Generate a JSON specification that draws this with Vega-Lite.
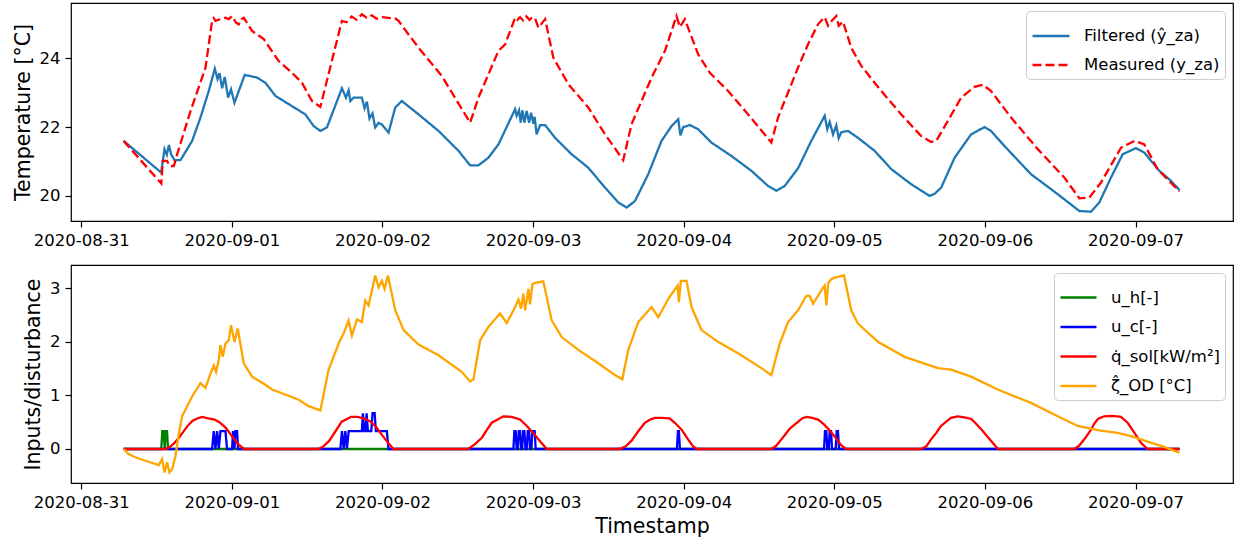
{
  "$schema": "https://vega.github.io/schema/vega-lite/v6.json",
  "background": "white",
  "padding": {"left": 12, "top": 2, "right": 0, "bottom": 2},
  "spacing": 14,
  "resolve": {
    "scale": {"color": "independent", "strokeDash": "independent"},
    "legend": {"color": "independent", "strokeDash": "independent"}
  },
  "config": {
    "font": "DejaVu Sans",
    "view": {"stroke": "black", "strokeWidth": 1.2},
    "axis": {
      "grid": false, "domain": false,
      "tickColor": "black", "tickSize": 6, "tickWidth": 1.2,
      "labelColor": "black", "labelFontSize": 16.5, "labelPadding": 5, "labelFont": "DejaVu Sans",
      "titleColor": "black", "titleFontSize": 20.5, "titleFontWeight": "normal", "titlePadding": 6, "titleFont": "DejaVu Sans"
    },
    "legend": {
      "labelFont": "DejaVu Sans", "labelFontSize": 16.5, "labelColor": "black",
      "strokeColor": "#cccccc", "fillColor": "white", "cornerRadius": 4,
      "symbolType": "stroke", "symbolStrokeWidth": 2.3, "labelOffset": 13
    }
  },
  "datasets": {
    "temp": [
      {"t": "2020-08-31T06:45", "s": "F", "v": 21.60},
      {"t": "2020-08-31T12:44", "s": "F", "v": 20.68},
      {"t": "2020-08-31T13:16", "s": "F", "v": 21.36},
      {"t": "2020-08-31T13:38", "s": "F", "v": 21.20},
      {"t": "2020-08-31T13:58", "s": "F", "v": 21.48},
      {"t": "2020-08-31T14:19", "s": "F", "v": 21.21},
      {"t": "2020-08-31T14:52", "s": "F", "v": 21.04},
      {"t": "2020-08-31T15:49", "s": "F", "v": 21.04},
      {"t": "2020-08-31T17:40", "s": "F", "v": 21.60},
      {"t": "2020-08-31T19:00", "s": "F", "v": 22.28},
      {"t": "2020-08-31T20:19", "s": "F", "v": 23.05},
      {"t": "2020-08-31T21:17", "s": "F", "v": 23.70},
      {"t": "2020-08-31T21:43", "s": "F", "v": 23.40},
      {"t": "2020-08-31T22:02", "s": "F", "v": 23.57},
      {"t": "2020-08-31T22:27", "s": "F", "v": 23.13},
      {"t": "2020-08-31T22:52", "s": "F", "v": 23.46},
      {"t": "2020-08-31T23:24", "s": "F", "v": 22.86},
      {"t": "2020-08-31T23:52", "s": "F", "v": 23.10},
      {"t": "2020-09-01T00:25", "s": "F", "v": 22.71},
      {"t": "2020-09-01T02:03", "s": "F", "v": 23.52},
      {"t": "2020-09-01T04:01", "s": "F", "v": 23.44},
      {"t": "2020-09-01T05:21", "s": "F", "v": 23.29},
      {"t": "2020-09-01T06:56", "s": "F", "v": 22.91},
      {"t": "2020-09-01T09:03", "s": "F", "v": 22.67},
      {"t": "2020-09-01T11:43", "s": "F", "v": 22.37},
      {"t": "2020-09-01T13:02", "s": "F", "v": 22.03},
      {"t": "2020-09-01T14:06", "s": "F", "v": 21.89},
      {"t": "2020-09-01T15:09", "s": "F", "v": 21.99},
      {"t": "2020-09-01T17:32", "s": "F", "v": 23.13},
      {"t": "2020-09-01T18:11", "s": "F", "v": 22.86},
      {"t": "2020-09-01T18:36", "s": "F", "v": 23.07},
      {"t": "2020-09-01T18:53", "s": "F", "v": 22.76},
      {"t": "2020-09-01T19:24", "s": "F", "v": 22.86},
      {"t": "2020-09-01T20:43", "s": "F", "v": 22.86},
      {"t": "2020-09-01T21:09", "s": "F", "v": 22.55},
      {"t": "2020-09-01T21:31", "s": "F", "v": 22.74},
      {"t": "2020-09-01T21:56", "s": "F", "v": 22.25},
      {"t": "2020-09-01T22:25", "s": "F", "v": 22.40},
      {"t": "2020-09-01T22:50", "s": "F", "v": 21.99},
      {"t": "2020-09-01T23:22", "s": "F", "v": 22.12},
      {"t": "2020-09-01T23:54", "s": "F", "v": 22.08},
      {"t": "2020-09-02T00:58", "s": "F", "v": 21.84},
      {"t": "2020-09-02T02:02", "s": "F", "v": 22.57},
      {"t": "2020-09-02T03:05", "s": "F", "v": 22.76},
      {"t": "2020-09-02T05:45", "s": "F", "v": 22.37},
      {"t": "2020-09-02T08:56", "s": "F", "v": 21.89},
      {"t": "2020-09-02T12:07", "s": "F", "v": 21.31},
      {"t": "2020-09-02T13:58", "s": "F", "v": 20.89},
      {"t": "2020-09-02T15:18", "s": "F", "v": 20.89},
      {"t": "2020-09-02T16:53", "s": "F", "v": 21.11},
      {"t": "2020-09-02T18:29", "s": "F", "v": 21.50},
      {"t": "2020-09-02T21:08", "s": "F", "v": 22.52},
      {"t": "2020-09-02T21:23", "s": "F", "v": 22.33},
      {"t": "2020-09-02T21:46", "s": "F", "v": 22.49},
      {"t": "2020-09-02T22:02", "s": "F", "v": 22.13},
      {"t": "2020-09-02T22:18", "s": "F", "v": 22.49},
      {"t": "2020-09-02T22:37", "s": "F", "v": 22.13},
      {"t": "2020-09-02T22:59", "s": "F", "v": 22.47},
      {"t": "2020-09-02T23:22", "s": "F", "v": 22.13},
      {"t": "2020-09-02T23:41", "s": "F", "v": 22.42},
      {"t": "2020-09-03T00:03", "s": "F", "v": 22.10},
      {"t": "2020-09-03T00:15", "s": "F", "v": 22.30},
      {"t": "2020-09-03T00:34", "s": "F", "v": 21.79},
      {"t": "2020-09-03T01:07", "s": "F", "v": 22.06},
      {"t": "2020-09-03T01:55", "s": "F", "v": 22.06},
      {"t": "2020-09-03T03:30", "s": "F", "v": 21.69},
      {"t": "2020-09-03T06:09", "s": "F", "v": 21.21},
      {"t": "2020-09-03T08:48", "s": "F", "v": 20.82},
      {"t": "2020-09-03T11:28", "s": "F", "v": 20.24},
      {"t": "2020-09-03T13:35", "s": "F", "v": 19.81},
      {"t": "2020-09-03T14:54", "s": "F", "v": 19.66},
      {"t": "2020-09-03T16:14", "s": "F", "v": 19.85},
      {"t": "2020-09-03T18:21", "s": "F", "v": 20.63},
      {"t": "2020-09-03T20:28", "s": "F", "v": 21.60},
      {"t": "2020-09-03T22:04", "s": "F", "v": 22.03},
      {"t": "2020-09-03T23:08", "s": "F", "v": 22.23},
      {"t": "2020-09-03T23:29", "s": "F", "v": 21.76},
      {"t": "2020-09-03T23:55", "s": "F", "v": 22.00},
      {"t": "2020-09-04T00:59", "s": "F", "v": 22.06},
      {"t": "2020-09-04T02:18", "s": "F", "v": 21.94},
      {"t": "2020-09-04T04:25", "s": "F", "v": 21.55},
      {"t": "2020-09-04T07:37", "s": "F", "v": 21.16},
      {"t": "2020-09-04T10:47", "s": "F", "v": 20.73},
      {"t": "2020-09-04T13:27", "s": "F", "v": 20.29},
      {"t": "2020-09-04T14:46", "s": "F", "v": 20.15},
      {"t": "2020-09-04T16:06", "s": "F", "v": 20.29},
      {"t": "2020-09-04T18:13", "s": "F", "v": 20.80},
      {"t": "2020-09-04T20:20", "s": "F", "v": 21.60},
      {"t": "2020-09-04T22:28", "s": "F", "v": 22.33},
      {"t": "2020-09-04T22:53", "s": "F", "v": 21.94},
      {"t": "2020-09-04T23:16", "s": "F", "v": 22.15},
      {"t": "2020-09-04T23:48", "s": "F", "v": 21.79},
      {"t": "2020-09-05T00:19", "s": "F", "v": 22.05},
      {"t": "2020-09-05T00:42", "s": "F", "v": 21.68},
      {"t": "2020-09-05T01:07", "s": "F", "v": 21.85},
      {"t": "2020-09-05T02:11", "s": "F", "v": 21.89},
      {"t": "2020-09-05T03:46", "s": "F", "v": 21.69},
      {"t": "2020-09-05T06:26", "s": "F", "v": 21.31},
      {"t": "2020-09-05T09:04", "s": "F", "v": 20.78},
      {"t": "2020-09-05T12:15", "s": "F", "v": 20.34},
      {"t": "2020-09-05T15:11", "s": "F", "v": 20.00},
      {"t": "2020-09-05T15:59", "s": "F", "v": 20.06},
      {"t": "2020-09-05T17:02", "s": "F", "v": 20.24},
      {"t": "2020-09-05T19:10", "s": "F", "v": 21.11},
      {"t": "2020-09-05T21:48", "s": "F", "v": 21.79},
      {"t": "2020-09-05T23:56", "s": "F", "v": 22.00},
      {"t": "2020-09-06T00:59", "s": "F", "v": 21.89},
      {"t": "2020-09-06T03:07", "s": "F", "v": 21.45},
      {"t": "2020-09-06T07:21", "s": "F", "v": 20.63},
      {"t": "2020-09-06T11:36", "s": "F", "v": 20.05},
      {"t": "2020-09-06T15:03", "s": "F", "v": 19.56},
      {"t": "2020-09-06T16:54", "s": "F", "v": 19.54},
      {"t": "2020-09-06T18:14", "s": "F", "v": 19.81},
      {"t": "2020-09-06T20:05", "s": "F", "v": 20.53},
      {"t": "2020-09-06T21:57", "s": "F", "v": 21.21},
      {"t": "2020-09-07T00:04", "s": "F", "v": 21.39},
      {"t": "2020-09-07T01:24", "s": "F", "v": 21.26},
      {"t": "2020-09-07T03:47", "s": "F", "v": 20.73},
      {"t": "2020-09-07T05:38", "s": "F", "v": 20.44},
      {"t": "2020-09-07T07:00", "s": "F", "v": 20.17},

      {"t": "2020-08-31T06:45", "s": "M", "v": 21.60},
      {"t": "2020-08-31T12:45", "s": "M", "v": 20.36},
      {"t": "2020-08-31T13:00", "s": "M", "v": 21.02},
      {"t": "2020-08-31T13:41", "s": "M", "v": 21.02},
      {"t": "2020-08-31T14:04", "s": "M", "v": 20.87},
      {"t": "2020-08-31T14:45", "s": "M", "v": 20.87},
      {"t": "2020-08-31T15:17", "s": "M", "v": 21.21},
      {"t": "2020-08-31T17:25", "s": "M", "v": 22.47},
      {"t": "2020-08-31T19:48", "s": "M", "v": 23.73},
      {"t": "2020-08-31T20:51", "s": "M", "v": 25.09},
      {"t": "2020-08-31T21:07", "s": "M", "v": 25.17},
      {"t": "2020-08-31T21:23", "s": "M", "v": 25.09},
      {"t": "2020-08-31T22:11", "s": "M", "v": 25.14},
      {"t": "2020-08-31T22:59", "s": "M", "v": 25.18},
      {"t": "2020-08-31T23:31", "s": "M", "v": 25.14},
      {"t": "2020-09-01T00:02", "s": "M", "v": 25.23},
      {"t": "2020-09-01T00:40", "s": "M", "v": 25.04},
      {"t": "2020-09-01T01:06", "s": "M", "v": 24.99},
      {"t": "2020-09-01T01:32", "s": "M", "v": 25.14},
      {"t": "2020-09-01T01:54", "s": "M", "v": 25.18},
      {"t": "2020-09-01T03:13", "s": "M", "v": 24.80},
      {"t": "2020-09-01T05:05", "s": "M", "v": 24.56},
      {"t": "2020-09-01T07:28", "s": "M", "v": 23.92},
      {"t": "2020-09-01T09:35", "s": "M", "v": 23.58},
      {"t": "2020-09-01T11:10", "s": "M", "v": 23.29},
      {"t": "2020-09-01T12:46", "s": "M", "v": 22.76},
      {"t": "2020-09-01T14:06", "s": "M", "v": 22.59},
      {"t": "2020-09-01T17:32", "s": "M", "v": 25.09},
      {"t": "2020-09-01T18:17", "s": "M", "v": 25.05},
      {"t": "2020-09-01T19:05", "s": "M", "v": 25.22},
      {"t": "2020-09-01T19:53", "s": "M", "v": 25.12},
      {"t": "2020-09-01T20:43", "s": "M", "v": 25.28},
      {"t": "2020-09-01T21:28", "s": "M", "v": 25.18},
      {"t": "2020-09-01T22:16", "s": "M", "v": 25.25},
      {"t": "2020-09-01T23:04", "s": "M", "v": 25.15},
      {"t": "2020-09-01T23:54", "s": "M", "v": 25.20},
      {"t": "2020-09-02T00:58", "s": "M", "v": 25.18},
      {"t": "2020-09-02T02:02", "s": "M", "v": 25.16},
      {"t": "2020-09-02T02:34", "s": "M", "v": 25.09},
      {"t": "2020-09-02T03:31", "s": "M", "v": 24.85},
      {"t": "2020-09-02T05:45", "s": "M", "v": 24.31},
      {"t": "2020-09-02T09:27", "s": "M", "v": 23.49},
      {"t": "2020-09-02T13:58", "s": "M", "v": 22.13},
      {"t": "2020-09-02T15:18", "s": "M", "v": 22.86},
      {"t": "2020-09-02T18:29", "s": "M", "v": 24.22},
      {"t": "2020-09-02T19:33", "s": "M", "v": 24.41},
      {"t": "2020-09-02T21:08", "s": "M", "v": 25.18},
      {"t": "2020-09-02T21:30", "s": "M", "v": 25.12},
      {"t": "2020-09-02T21:55", "s": "M", "v": 25.20},
      {"t": "2020-09-02T22:25", "s": "M", "v": 25.10},
      {"t": "2020-09-02T22:55", "s": "M", "v": 25.22},
      {"t": "2020-09-02T23:25", "s": "M", "v": 25.12},
      {"t": "2020-09-02T23:55", "s": "M", "v": 25.20},
      {"t": "2020-09-03T00:20", "s": "M", "v": 25.15},
      {"t": "2020-09-03T00:51", "s": "M", "v": 24.89},
      {"t": "2020-09-03T01:55", "s": "M", "v": 25.14},
      {"t": "2020-09-03T03:14", "s": "M", "v": 24.02},
      {"t": "2020-09-03T05:37", "s": "M", "v": 23.25},
      {"t": "2020-09-03T08:48", "s": "M", "v": 22.57},
      {"t": "2020-09-03T11:28", "s": "M", "v": 21.79},
      {"t": "2020-09-03T14:22", "s": "M", "v": 21.04},
      {"t": "2020-09-03T15:41", "s": "M", "v": 22.08},
      {"t": "2020-09-03T18:53", "s": "M", "v": 23.44},
      {"t": "2020-09-03T21:01", "s": "M", "v": 24.22},
      {"t": "2020-09-03T22:51", "s": "M", "v": 25.23},
      {"t": "2020-09-03T23:24", "s": "M", "v": 24.91},
      {"t": "2020-09-04T00:11", "s": "M", "v": 25.14},
      {"t": "2020-09-04T02:18", "s": "M", "v": 24.12},
      {"t": "2020-09-04T04:10", "s": "M", "v": 23.58},
      {"t": "2020-09-04T07:05", "s": "M", "v": 23.05},
      {"t": "2020-09-04T10:16", "s": "M", "v": 22.37},
      {"t": "2020-09-04T13:58", "s": "M", "v": 21.55},
      {"t": "2020-09-04T15:02", "s": "M", "v": 22.28},
      {"t": "2020-09-04T18:13", "s": "M", "v": 23.73},
      {"t": "2020-09-04T19:49", "s": "M", "v": 24.41},
      {"t": "2020-09-04T21:24", "s": "M", "v": 24.99},
      {"t": "2020-09-04T22:28", "s": "M", "v": 25.20},
      {"t": "2020-09-04T23:00", "s": "M", "v": 24.95},
      {"t": "2020-09-04T23:38", "s": "M", "v": 25.10},
      {"t": "2020-09-05T00:19", "s": "M", "v": 25.23},
      {"t": "2020-09-05T00:42", "s": "M", "v": 24.95},
      {"t": "2020-09-05T01:23", "s": "M", "v": 25.07},
      {"t": "2020-09-05T02:42", "s": "M", "v": 24.31},
      {"t": "2020-09-05T04:18", "s": "M", "v": 23.78},
      {"t": "2020-09-05T07:29", "s": "M", "v": 23.05},
      {"t": "2020-09-05T10:40", "s": "M", "v": 22.37},
      {"t": "2020-09-05T13:51", "s": "M", "v": 21.74},
      {"t": "2020-09-05T15:26", "s": "M", "v": 21.57},
      {"t": "2020-09-05T16:14", "s": "M", "v": 21.60},
      {"t": "2020-09-05T18:06", "s": "M", "v": 22.18},
      {"t": "2020-09-05T20:13", "s": "M", "v": 22.86},
      {"t": "2020-09-05T22:21", "s": "M", "v": 23.17},
      {"t": "2020-09-05T23:40", "s": "M", "v": 23.23},
      {"t": "2020-09-06T00:59", "s": "M", "v": 23.05},
      {"t": "2020-09-06T04:10", "s": "M", "v": 22.28},
      {"t": "2020-09-06T08:25", "s": "M", "v": 21.36},
      {"t": "2020-09-06T12:40", "s": "M", "v": 20.53},
      {"t": "2020-09-06T15:03", "s": "M", "v": 19.93},
      {"t": "2020-09-06T16:39", "s": "M", "v": 19.95},
      {"t": "2020-09-06T18:30", "s": "M", "v": 20.39},
      {"t": "2020-09-06T21:41", "s": "M", "v": 21.40},
      {"t": "2020-09-06T23:49", "s": "M", "v": 21.60},
      {"t": "2020-09-07T01:24", "s": "M", "v": 21.50},
      {"t": "2020-09-07T03:31", "s": "M", "v": 20.78},
      {"t": "2020-09-07T07:00", "s": "M", "v": 20.13}
    ],
    "inp": [
      {"t": "2020-08-31T06:45", "k": "uh", "v": 0},
      {"t": "2020-08-31T12:45", "k": "uh", "v": 0},
      {"t": "2020-08-31T12:55", "k": "uh", "v": 0.333},
      {"t": "2020-08-31T13:08", "k": "uh", "v": 0.333},
      {"t": "2020-08-31T13:18", "k": "uh", "v": 0},
      {"t": "2020-08-31T13:28", "k": "uh", "v": 0.333},
      {"t": "2020-08-31T13:40", "k": "uh", "v": 0.333},
      {"t": "2020-08-31T13:50", "k": "uh", "v": 0},
      {"t": "2020-09-07T07:00", "k": "uh", "v": 0},

      {"t": "2020-08-31T06:45", "k": "uc", "v": 0},
      {"t": "2020-08-31T20:51", "k": "uc", "v": 0},
      {"t": "2020-08-31T21:07", "k": "uc", "v": 0.333},
      {"t": "2020-08-31T21:23", "k": "uc", "v": 0},
      {"t": "2020-08-31T21:39", "k": "uc", "v": 0.333},
      {"t": "2020-08-31T21:55", "k": "uc", "v": 0},
      {"t": "2020-08-31T22:11", "k": "uc", "v": 0.333},
      {"t": "2020-08-31T22:59", "k": "uc", "v": 0.333},
      {"t": "2020-08-31T23:14", "k": "uc", "v": 0},
      {"t": "2020-09-01T00:02", "k": "uc", "v": 0},
      {"t": "2020-09-01T00:11", "k": "uc", "v": 0.333},
      {"t": "2020-09-01T00:25", "k": "uc", "v": 0},
      {"t": "2020-09-01T00:34", "k": "uc", "v": 0.333},
      {"t": "2020-09-01T00:50", "k": "uc", "v": 0.333},
      {"t": "2020-09-01T00:59", "k": "uc", "v": 0},
      {"t": "2020-09-01T17:17", "k": "uc", "v": 0},
      {"t": "2020-09-01T17:33", "k": "uc", "v": 0.333},
      {"t": "2020-09-01T17:49", "k": "uc", "v": 0},
      {"t": "2020-09-01T18:05", "k": "uc", "v": 0.333},
      {"t": "2020-09-01T18:20", "k": "uc", "v": 0},
      {"t": "2020-09-01T18:37", "k": "uc", "v": 0.333},
      {"t": "2020-09-01T20:43", "k": "uc", "v": 0.333},
      {"t": "2020-09-01T20:53", "k": "uc", "v": 0.667},
      {"t": "2020-09-01T21:06", "k": "uc", "v": 0.333},
      {"t": "2020-09-01T21:19", "k": "uc", "v": 0.333},
      {"t": "2020-09-01T21:28", "k": "uc", "v": 0.667},
      {"t": "2020-09-01T21:41", "k": "uc", "v": 0.333},
      {"t": "2020-09-01T22:13", "k": "uc", "v": 0.333},
      {"t": "2020-09-01T22:25", "k": "uc", "v": 0.667},
      {"t": "2020-09-01T22:45", "k": "uc", "v": 0.667},
      {"t": "2020-09-01T22:57", "k": "uc", "v": 0.333},
      {"t": "2020-09-02T00:42", "k": "uc", "v": 0.333},
      {"t": "2020-09-02T00:58", "k": "uc", "v": 0},
      {"t": "2020-09-02T20:52", "k": "uc", "v": 0},
      {"t": "2020-09-02T21:01", "k": "uc", "v": 0.333},
      {"t": "2020-09-02T21:14", "k": "uc", "v": 0.333},
      {"t": "2020-09-02T21:23", "k": "uc", "v": 0},
      {"t": "2020-09-02T21:33", "k": "uc", "v": 0},
      {"t": "2020-09-02T21:43", "k": "uc", "v": 0.333},
      {"t": "2020-09-02T21:56", "k": "uc", "v": 0.333},
      {"t": "2020-09-02T22:05", "k": "uc", "v": 0},
      {"t": "2020-09-02T22:15", "k": "uc", "v": 0},
      {"t": "2020-09-02T22:25", "k": "uc", "v": 0.333},
      {"t": "2020-09-02T22:37", "k": "uc", "v": 0.333},
      {"t": "2020-09-02T22:47", "k": "uc", "v": 0},
      {"t": "2020-09-02T22:59", "k": "uc", "v": 0},
      {"t": "2020-09-02T23:09", "k": "uc", "v": 0.333},
      {"t": "2020-09-02T23:22", "k": "uc", "v": 0.333},
      {"t": "2020-09-02T23:31", "k": "uc", "v": 0},
      {"t": "2020-09-02T23:44", "k": "uc", "v": 0},
      {"t": "2020-09-02T23:53", "k": "uc", "v": 0.333},
      {"t": "2020-09-03T00:15", "k": "uc", "v": 0.333},
      {"t": "2020-09-03T00:25", "k": "uc", "v": 0},
      {"t": "2020-09-03T22:55", "k": "uc", "v": 0},
      {"t": "2020-09-03T23:05", "k": "uc", "v": 0.333},
      {"t": "2020-09-03T23:14", "k": "uc", "v": 0.333},
      {"t": "2020-09-03T23:24", "k": "uc", "v": 0},
      {"t": "2020-09-04T22:22", "k": "uc", "v": 0},
      {"t": "2020-09-04T22:31", "k": "uc", "v": 0.333},
      {"t": "2020-09-04T22:44", "k": "uc", "v": 0.333},
      {"t": "2020-09-04T22:53", "k": "uc", "v": 0},
      {"t": "2020-09-04T23:07", "k": "uc", "v": 0},
      {"t": "2020-09-04T23:16", "k": "uc", "v": 0.333},
      {"t": "2020-09-04T23:29", "k": "uc", "v": 0.333},
      {"t": "2020-09-04T23:38", "k": "uc", "v": 0},
      {"t": "2020-09-05T00:13", "k": "uc", "v": 0},
      {"t": "2020-09-05T00:23", "k": "uc", "v": 0.333},
      {"t": "2020-09-05T00:35", "k": "uc", "v": 0.333},
      {"t": "2020-09-05T00:45", "k": "uc", "v": 0},
      {"t": "2020-09-07T07:00", "k": "uc", "v": 0},

      {"t": "2020-08-31T06:45", "k": "qs", "v": 0},
      {"t": "2020-08-31T13:20", "k": "qs", "v": 0},
      {"t": "2020-08-31T14:00", "k": "qs", "v": 0.03},
      {"t": "2020-08-31T14:45", "k": "qs", "v": 0.10},
      {"t": "2020-08-31T15:30", "k": "qs", "v": 0.20},
      {"t": "2020-08-31T16:15", "k": "qs", "v": 0.32},
      {"t": "2020-08-31T17:00", "k": "qs", "v": 0.44},
      {"t": "2020-08-31T17:45", "k": "qs", "v": 0.53},
      {"t": "2020-08-31T18:30", "k": "qs", "v": 0.57},
      {"t": "2020-08-31T19:15", "k": "qs", "v": 0.60},
      {"t": "2020-08-31T20:15", "k": "qs", "v": 0.57},
      {"t": "2020-08-31T21:15", "k": "qs", "v": 0.55},
      {"t": "2020-08-31T22:00", "k": "qs", "v": 0.50},
      {"t": "2020-08-31T23:00", "k": "qs", "v": 0.40},
      {"t": "2020-09-01T00:00", "k": "qs", "v": 0.24},
      {"t": "2020-09-01T01:00", "k": "qs", "v": 0.09},
      {"t": "2020-09-01T01:55", "k": "qs", "v": 0},
      {"t": "2020-09-01T13:45", "k": "qs", "v": 0},
      {"t": "2020-09-01T14:30", "k": "qs", "v": 0.04},
      {"t": "2020-09-01T15:30", "k": "qs", "v": 0.15},
      {"t": "2020-09-01T16:30", "k": "qs", "v": 0.33},
      {"t": "2020-09-01T17:30", "k": "qs", "v": 0.51},
      {"t": "2020-09-01T18:30", "k": "qs", "v": 0.57},
      {"t": "2020-09-01T19:00", "k": "qs", "v": 0.60},
      {"t": "2020-09-01T20:00", "k": "qs", "v": 0.60},
      {"t": "2020-09-01T21:00", "k": "qs", "v": 0.57},
      {"t": "2020-09-01T22:00", "k": "qs", "v": 0.52},
      {"t": "2020-09-01T23:00", "k": "qs", "v": 0.41},
      {"t": "2020-09-02T00:00", "k": "qs", "v": 0.25},
      {"t": "2020-09-02T01:00", "k": "qs", "v": 0.10},
      {"t": "2020-09-02T01:45", "k": "qs", "v": 0},
      {"t": "2020-09-02T13:40", "k": "qs", "v": 0},
      {"t": "2020-09-02T14:45", "k": "qs", "v": 0.09},
      {"t": "2020-09-02T15:50", "k": "qs", "v": 0.21},
      {"t": "2020-09-02T16:40", "k": "qs", "v": 0.36},
      {"t": "2020-09-02T17:25", "k": "qs", "v": 0.49},
      {"t": "2020-09-02T18:30", "k": "qs", "v": 0.56},
      {"t": "2020-09-02T19:15", "k": "qs", "v": 0.61},
      {"t": "2020-09-02T20:35", "k": "qs", "v": 0.60},
      {"t": "2020-09-02T21:55", "k": "qs", "v": 0.55},
      {"t": "2020-09-02T23:00", "k": "qs", "v": 0.43},
      {"t": "2020-09-03T00:00", "k": "qs", "v": 0.30},
      {"t": "2020-09-03T01:05", "k": "qs", "v": 0.15},
      {"t": "2020-09-03T02:10", "k": "qs", "v": 0},
      {"t": "2020-09-03T13:50", "k": "qs", "v": 0},
      {"t": "2020-09-03T14:45", "k": "qs", "v": 0.05},
      {"t": "2020-09-03T15:40", "k": "qs", "v": 0.15},
      {"t": "2020-09-03T16:45", "k": "qs", "v": 0.33},
      {"t": "2020-09-03T17:50", "k": "qs", "v": 0.49},
      {"t": "2020-09-03T18:40", "k": "qs", "v": 0.55},
      {"t": "2020-09-03T19:25", "k": "qs", "v": 0.58},
      {"t": "2020-09-03T20:30", "k": "qs", "v": 0.58},
      {"t": "2020-09-03T21:45", "k": "qs", "v": 0.57},
      {"t": "2020-09-03T22:35", "k": "qs", "v": 0.49},
      {"t": "2020-09-03T23:40", "k": "qs", "v": 0.36},
      {"t": "2020-09-04T00:45", "k": "qs", "v": 0.17},
      {"t": "2020-09-04T01:30", "k": "qs", "v": 0.05},
      {"t": "2020-09-04T02:05", "k": "qs", "v": 0},
      {"t": "2020-09-04T14:00", "k": "qs", "v": 0},
      {"t": "2020-09-04T14:45", "k": "qs", "v": 0.06},
      {"t": "2020-09-04T15:30", "k": "qs", "v": 0.17},
      {"t": "2020-09-04T16:15", "k": "qs", "v": 0.28},
      {"t": "2020-09-04T16:55", "k": "qs", "v": 0.38},
      {"t": "2020-09-04T18:15", "k": "qs", "v": 0.51},
      {"t": "2020-09-04T19:00", "k": "qs", "v": 0.58},
      {"t": "2020-09-04T19:35", "k": "qs", "v": 0.60},
      {"t": "2020-09-04T20:30", "k": "qs", "v": 0.58},
      {"t": "2020-09-04T21:25", "k": "qs", "v": 0.55},
      {"t": "2020-09-04T22:15", "k": "qs", "v": 0.47},
      {"t": "2020-09-04T23:00", "k": "qs", "v": 0.38},
      {"t": "2020-09-05T00:05", "k": "qs", "v": 0.23},
      {"t": "2020-09-05T01:05", "k": "qs", "v": 0.07},
      {"t": "2020-09-05T01:55", "k": "qs", "v": 0},
      {"t": "2020-09-05T13:50", "k": "qs", "v": 0},
      {"t": "2020-09-05T14:40", "k": "qs", "v": 0.05},
      {"t": "2020-09-05T15:25", "k": "qs", "v": 0.18},
      {"t": "2020-09-05T16:15", "k": "qs", "v": 0.30},
      {"t": "2020-09-05T17:00", "k": "qs", "v": 0.43},
      {"t": "2020-09-05T18:35", "k": "qs", "v": 0.58},
      {"t": "2020-09-05T19:40", "k": "qs", "v": 0.61},
      {"t": "2020-09-05T20:45", "k": "qs", "v": 0.59},
      {"t": "2020-09-05T21:50", "k": "qs", "v": 0.56},
      {"t": "2020-09-05T22:35", "k": "qs", "v": 0.47},
      {"t": "2020-09-05T23:25", "k": "qs", "v": 0.37},
      {"t": "2020-09-06T00:15", "k": "qs", "v": 0.25},
      {"t": "2020-09-06T01:00", "k": "qs", "v": 0.15},
      {"t": "2020-09-06T01:30", "k": "qs", "v": 0.08},
      {"t": "2020-09-06T02:05", "k": "qs", "v": 0},
      {"t": "2020-09-06T14:15", "k": "qs", "v": 0},
      {"t": "2020-09-06T15:00", "k": "qs", "v": 0.06},
      {"t": "2020-09-06T15:50", "k": "qs", "v": 0.18},
      {"t": "2020-09-06T16:55", "k": "qs", "v": 0.36},
      {"t": "2020-09-06T17:25", "k": "qs", "v": 0.47},
      {"t": "2020-09-06T18:00", "k": "qs", "v": 0.56},
      {"t": "2020-09-06T19:00", "k": "qs", "v": 0.61},
      {"t": "2020-09-06T20:05", "k": "qs", "v": 0.62},
      {"t": "2020-09-06T21:05", "k": "qs", "v": 0.61},
      {"t": "2020-09-06T21:40", "k": "qs", "v": 0.60},
      {"t": "2020-09-06T22:45", "k": "qs", "v": 0.49},
      {"t": "2020-09-06T23:50", "k": "qs", "v": 0.30},
      {"t": "2020-09-07T00:50", "k": "qs", "v": 0.12},
      {"t": "2020-09-07T01:55", "k": "qs", "v": 0},
      {"t": "2020-09-07T07:00", "k": "qs", "v": 0},

      {"t": "2020-08-31T06:45", "k": "zo", "v": 0},
      {"t": "2020-08-31T07:30", "k": "zo", "v": -0.09},
      {"t": "2020-08-31T08:30", "k": "zo", "v": -0.15},
      {"t": "2020-08-31T10:00", "k": "zo", "v": -0.21},
      {"t": "2020-08-31T12:22", "k": "zo", "v": -0.30},
      {"t": "2020-08-31T12:53", "k": "zo", "v": -0.19},
      {"t": "2020-08-31T13:16", "k": "zo", "v": -0.44},
      {"t": "2020-08-31T13:41", "k": "zo", "v": -0.25},
      {"t": "2020-08-31T14:04", "k": "zo", "v": -0.44},
      {"t": "2020-08-31T14:29", "k": "zo", "v": -0.38},
      {"t": "2020-08-31T15:01", "k": "zo", "v": -0.13},
      {"t": "2020-08-31T15:30", "k": "zo", "v": 0.25},
      {"t": "2020-08-31T16:04", "k": "zo", "v": 0.61},
      {"t": "2020-08-31T17:40", "k": "zo", "v": 0.98},
      {"t": "2020-08-31T19:00", "k": "zo", "v": 1.23},
      {"t": "2020-08-31T19:48", "k": "zo", "v": 1.14},
      {"t": "2020-08-31T20:36", "k": "zo", "v": 1.41},
      {"t": "2020-08-31T21:07", "k": "zo", "v": 1.56},
      {"t": "2020-08-31T21:29", "k": "zo", "v": 1.44},
      {"t": "2020-08-31T21:55", "k": "zo", "v": 1.66},
      {"t": "2020-08-31T22:11", "k": "zo", "v": 1.94},
      {"t": "2020-08-31T22:33", "k": "zo", "v": 1.72},
      {"t": "2020-08-31T22:59", "k": "zo", "v": 1.97},
      {"t": "2020-08-31T23:31", "k": "zo", "v": 2.03},
      {"t": "2020-08-31T23:52", "k": "zo", "v": 2.31},
      {"t": "2020-09-01T00:25", "k": "zo", "v": 2.00},
      {"t": "2020-09-01T00:56", "k": "zo", "v": 2.25},
      {"t": "2020-09-01T01:54", "k": "zo", "v": 1.60},
      {"t": "2020-09-01T03:13", "k": "zo", "v": 1.35},
      {"t": "2020-09-01T05:21", "k": "zo", "v": 1.20},
      {"t": "2020-09-01T06:24", "k": "zo", "v": 1.11},
      {"t": "2020-09-01T07:59", "k": "zo", "v": 1.04},
      {"t": "2020-09-01T10:39", "k": "zo", "v": 0.92},
      {"t": "2020-09-01T12:14", "k": "zo", "v": 0.80},
      {"t": "2020-09-01T14:06", "k": "zo", "v": 0.72},
      {"t": "2020-09-01T15:25", "k": "zo", "v": 1.48},
      {"t": "2020-09-01T17:01", "k": "zo", "v": 1.97},
      {"t": "2020-09-01T17:49", "k": "zo", "v": 2.16},
      {"t": "2020-09-01T18:36", "k": "zo", "v": 2.40},
      {"t": "2020-09-01T19:08", "k": "zo", "v": 2.12},
      {"t": "2020-09-01T19:56", "k": "zo", "v": 2.42},
      {"t": "2020-09-01T20:43", "k": "zo", "v": 2.37},
      {"t": "2020-09-01T21:16", "k": "zo", "v": 2.77},
      {"t": "2020-09-01T21:47", "k": "zo", "v": 2.68},
      {"t": "2020-09-01T22:19", "k": "zo", "v": 2.96},
      {"t": "2020-09-01T22:51", "k": "zo", "v": 3.24},
      {"t": "2020-09-01T23:23", "k": "zo", "v": 3.02},
      {"t": "2020-09-01T23:54", "k": "zo", "v": 3.14},
      {"t": "2020-09-02T00:20", "k": "zo", "v": 2.99},
      {"t": "2020-09-02T00:52", "k": "zo", "v": 3.24},
      {"t": "2020-09-02T02:02", "k": "zo", "v": 2.59},
      {"t": "2020-09-02T03:22", "k": "zo", "v": 2.22},
      {"t": "2020-09-02T05:45", "k": "zo", "v": 1.95},
      {"t": "2020-09-02T08:56", "k": "zo", "v": 1.75},
      {"t": "2020-09-02T12:38", "k": "zo", "v": 1.44},
      {"t": "2020-09-02T13:58", "k": "zo", "v": 1.26},
      {"t": "2020-09-02T14:30", "k": "zo", "v": 1.30},
      {"t": "2020-09-02T15:34", "k": "zo", "v": 2.03},
      {"t": "2020-09-02T16:53", "k": "zo", "v": 2.28},
      {"t": "2020-09-02T18:45", "k": "zo", "v": 2.53},
      {"t": "2020-09-02T19:48", "k": "zo", "v": 2.35},
      {"t": "2020-09-02T21:08", "k": "zo", "v": 2.65},
      {"t": "2020-09-02T21:40", "k": "zo", "v": 2.79},
      {"t": "2020-09-02T22:05", "k": "zo", "v": 2.62},
      {"t": "2020-09-02T22:27", "k": "zo", "v": 2.90},
      {"t": "2020-09-02T22:44", "k": "zo", "v": 2.59},
      {"t": "2020-09-02T23:15", "k": "zo", "v": 2.99},
      {"t": "2020-09-02T23:31", "k": "zo", "v": 2.70},
      {"t": "2020-09-02T23:53", "k": "zo", "v": 3.07},
      {"t": "2020-09-03T00:19", "k": "zo", "v": 3.10},
      {"t": "2020-09-03T01:38", "k": "zo", "v": 3.13},
      {"t": "2020-09-03T02:58", "k": "zo", "v": 2.40},
      {"t": "2020-09-03T04:33", "k": "zo", "v": 2.09},
      {"t": "2020-09-03T07:13", "k": "zo", "v": 1.85},
      {"t": "2020-09-03T10:24", "k": "zo", "v": 1.60},
      {"t": "2020-09-03T13:03", "k": "zo", "v": 1.38},
      {"t": "2020-09-03T14:13", "k": "zo", "v": 1.30},
      {"t": "2020-09-03T15:10", "k": "zo", "v": 1.85},
      {"t": "2020-09-03T16:46", "k": "zo", "v": 2.37},
      {"t": "2020-09-03T18:53", "k": "zo", "v": 2.65},
      {"t": "2020-09-03T19:57", "k": "zo", "v": 2.46},
      {"t": "2020-09-03T21:32", "k": "zo", "v": 2.80},
      {"t": "2020-09-03T23:01", "k": "zo", "v": 3.05},
      {"t": "2020-09-03T23:14", "k": "zo", "v": 2.74},
      {"t": "2020-09-03T23:33", "k": "zo", "v": 3.14},
      {"t": "2020-09-04T00:27", "k": "zo", "v": 3.14},
      {"t": "2020-09-04T01:15", "k": "zo", "v": 2.65},
      {"t": "2020-09-04T02:50", "k": "zo", "v": 2.22},
      {"t": "2020-09-04T05:29", "k": "zo", "v": 2.00},
      {"t": "2020-09-04T09:12", "k": "zo", "v": 1.75},
      {"t": "2020-09-04T12:23", "k": "zo", "v": 1.51},
      {"t": "2020-09-04T13:58", "k": "zo", "v": 1.38},
      {"t": "2020-09-04T15:19", "k": "zo", "v": 1.97},
      {"t": "2020-09-04T16:38", "k": "zo", "v": 2.37},
      {"t": "2020-09-04T18:13", "k": "zo", "v": 2.59},
      {"t": "2020-09-04T19:33", "k": "zo", "v": 2.86},
      {"t": "2020-09-04T20:05", "k": "zo", "v": 2.86},
      {"t": "2020-09-04T20:37", "k": "zo", "v": 2.71},
      {"t": "2020-09-04T21:56", "k": "zo", "v": 2.96},
      {"t": "2020-09-04T22:28", "k": "zo", "v": 3.05},
      {"t": "2020-09-04T22:44", "k": "zo", "v": 2.68},
      {"t": "2020-09-04T23:03", "k": "zo", "v": 3.10},
      {"t": "2020-09-04T23:31", "k": "zo", "v": 3.17},
      {"t": "2020-09-05T00:04", "k": "zo", "v": 3.20},
      {"t": "2020-09-05T01:33", "k": "zo", "v": 3.24},
      {"t": "2020-09-05T02:42", "k": "zo", "v": 2.59},
      {"t": "2020-09-05T03:46", "k": "zo", "v": 2.34},
      {"t": "2020-09-05T06:57", "k": "zo", "v": 2.00},
      {"t": "2020-09-05T11:12", "k": "zo", "v": 1.72},
      {"t": "2020-09-05T16:30", "k": "zo", "v": 1.51},
      {"t": "2020-09-05T18:37", "k": "zo", "v": 1.48},
      {"t": "2020-09-05T21:48", "k": "zo", "v": 1.35},
      {"t": "2020-09-06T02:03", "k": "zo", "v": 1.11},
      {"t": "2020-09-06T07:21", "k": "zo", "v": 0.86},
      {"t": "2020-09-06T11:36", "k": "zo", "v": 0.61},
      {"t": "2020-09-06T14:47", "k": "zo", "v": 0.43},
      {"t": "2020-09-06T17:58", "k": "zo", "v": 0.35},
      {"t": "2020-09-06T21:09", "k": "zo", "v": 0.30},
      {"t": "2020-09-06T23:16", "k": "zo", "v": 0.24},
      {"t": "2020-09-07T02:27", "k": "zo", "v": 0.12},
      {"t": "2020-09-07T04:35", "k": "zo", "v": 0.04},
      {"t": "2020-09-07T07:00", "k": "zo", "v": -0.07}
    ]
  },
  "vconcat": [
    {
      "width": 1162,
      "height": 218,
      "data": {"name": "temp"},
      "encoding": {
        "x": {
          "field": "t", "type": "temporal",
          "scale": {"domain": [{"year": 2020, "month": 8, "date": 30, "hours": 22, "minutes": 22}, {"year": 2020, "month": 9, "date": 7, "hours": 15, "minutes": 32}], "nice": false},
          "axis": {"title": null, "format": "%Y-%m-%d", "tickCount": {"interval": "day", "step": 1}, "labelFlush": false, "labelOverlap": false}
        },
        "y": {
          "field": "v", "type": "quantitative",
          "scale": {"domain": [19.27, 25.61], "nice": false, "zero": false},
          "axis": {"title": "Temperature [°C]", "values": [20, 22, 24]}
        },
        "color": {
          "field": "s", "type": "nominal",
          "scale": {"domain": ["F", "M"], "range": ["#1f77b4", "#ff0000"]},
          "legend": {"title": null, "orient": "top-right", "offset": 8, "padding": 5, "rowPadding": -1, "symbolSize": 1369,
            "labelExpr": "datum.label === 'F' ? 'Filtered (ŷ_za)' : 'Measured (y_za)'"}
        },
        "strokeDash": {
          "field": "s", "type": "nominal",
          "scale": {"domain": ["F", "M"], "range": [[1, 0], [9, 4]]},
          "legend": {"title": null, "orient": "top-right", "offset": 8, "padding": 5, "rowPadding": -1, "symbolSize": 1369,
            "labelExpr": "datum.label === 'F' ? 'Filtered (ŷ_za)' : 'Measured (y_za)'"}
        }
      },
      "layer": [
        {"transform": [{"filter": "datum.s === 'F'"}], "mark": {"type": "line", "strokeWidth": 2.3}},
        {"transform": [{"filter": "datum.s === 'M'"}], "mark": {"type": "line", "strokeWidth": 2.3}}
      ]
    },
    {
      "width": 1162,
      "height": 218,
      "data": {"name": "inp"},
      "encoding": {
        "x": {
          "field": "t", "type": "temporal",
          "scale": {"domain": [{"year": 2020, "month": 8, "date": 30, "hours": 22, "minutes": 22}, {"year": 2020, "month": 9, "date": 7, "hours": 15, "minutes": 32}], "nice": false},
          "axis": {"title": "Timestamp", "format": "%Y-%m-%d", "tickCount": {"interval": "day", "step": 1}, "labelFlush": false, "labelOverlap": false}
        },
        "y": {
          "field": "v", "type": "quantitative",
          "scale": {"domain": [-0.635, 3.435], "nice": false, "zero": false},
          "axis": {"title": "Inputs/disturbance", "values": [0, 1, 2, 3]}
        },
        "color": {
          "field": "k", "type": "nominal",
          "scale": {"domain": ["uh", "uc", "qs", "zo"], "range": ["#008000", "#0000ff", "#ff0000", "#ffa500"]},
          "legend": {"title": null, "orient": "top-right", "offset": 8, "padding": 5, "rowPadding": 1.5, "symbolSize": 1296,
            "labelExpr": "{'uh': 'u_h[-]', 'uc': 'u_c[-]', 'qs': 'q̇_sol[kW/m²]', 'zo': 'ζ̂_OD [°C]'}[datum.label]"}
        }
      },
      "layer": [
        {"transform": [{"filter": "datum.k === 'uh'"}], "mark": {"type": "line", "strokeWidth": 2.3}},
        {"transform": [{"filter": "datum.k === 'uc'"}], "mark": {"type": "line", "strokeWidth": 2.3}},
        {"transform": [{"filter": "datum.k === 'qs'"}], "mark": {"type": "line", "strokeWidth": 2.3}},
        {"transform": [{"filter": "datum.k === 'zo'"}], "mark": {"type": "line", "strokeWidth": 2.3}}
      ]
    }
  ]
}
